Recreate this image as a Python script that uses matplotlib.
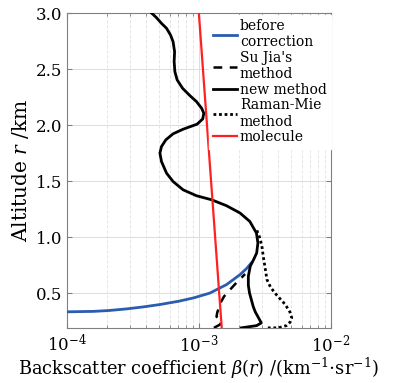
import matplotlib
matplotlib.use("Agg")
import matplotlib.pyplot as plt
from matplotlib.ticker import LogLocator, NullFormatter

plt.rcParams['font.family'] = ['DejaVu Serif']
plt.rcParams['mathtext.fontset'] = 'dejavuserif'

# altitude (km) and backscatter (km^-1 sr^-1)
new_alt = [3.0, 2.958, 2.908, 2.864, 2.804, 2.744, 2.655, 2.566, 2.477, 2.403,
           2.329, 2.263, 2.209, 2.15, 2.106, 2.055, 2.008, 1.963, 1.922, 1.868,
           1.808, 1.75, 1.675, 1.571, 1.496, 1.422, 1.369, 1.333, 1.28, 1.215,
           1.14, 1.036, 0.947, 0.858, 0.80, 0.74, 0.65, 0.57, 0.50, 0.44, 0.38,
           0.33, 0.29, 0.234, 0.21, 0.19]
new_val = [4.38e-4, 4.78e-4, 5.21e-4, 5.69e-4, 6.1e-4, 6.38e-4, 6.55e-4, 6.5e-4,
           6.58e-4, 6.85e-4, 7.52e-4, 8.55e-4, 9.6e-4, 1.05e-3, 1.09e-3, 1.07e-3,
           9.7e-4, 7.6e-4, 6.38e-4, 5.62e-4, 5.21e-4, 5.07e-4, 5.21e-4, 5.69e-4,
           6.38e-4, 7.6e-4, 9.6e-4, 1.25e-3, 1.62e-3, 2.05e-3, 2.43e-3, 2.73e-3,
           2.8e-3, 2.74e-3, 2.6e-3, 2.45e-3, 2.37e-3, 2.37e-3, 2.42e-3, 2.5e-3,
           2.58e-3, 2.68e-3, 2.8e-3, 2.97e-3, 2.74e-3, 2.1e-3]

before_alt = [0.30, 0.325, 0.333, 0.337, 0.345, 0.359, 0.377, 0.398, 0.427,
              0.457, 0.50, 0.576, 0.665, 0.72, 0.77]
before_val = [1e-5, 4e-5, 1.0e-4, 1.6e-4, 2.1e-4, 2.83e-4, 3.8e-4, 5.06e-4,
              7.0e-4, 9.1e-4, 1.21e-3, 1.62e-3, 2.05e-3, 2.3e-3, 2.5e-3]

sujia_alt = [0.19, 0.22, 0.26, 0.29, 0.33, 0.37, 0.42, 0.47, 0.53, 0.60, 0.67]
sujia_val = [1.3e-3, 1.45e-3, 1.48e-3, 1.36e-3, 1.38e-3, 1.42e-3, 1.47e-3,
             1.55e-3, 1.72e-3, 1.95e-3, 2.24e-3]

raman_alt = [1.06, 1.0, 0.92, 0.82, 0.72, 0.62, 0.55, 0.48, 0.40, 0.33, 0.28,
             0.24, 0.21, 0.19, 0.19]
raman_val = [2.75e-3, 2.88e-3, 3.0e-3, 3.08e-3, 3.18e-3, 3.28e-3, 3.5e-3,
             3.9e-3, 4.5e-3, 4.9e-3, 5.05e-3, 4.9e-3, 4.6e-3, 4.0e-3, 3.3e-3]

mol_alt = [3.0, 0.19]
mol_val = [1.0e-3, 1.49e-3]

fig = plt.figure(figsize=(3.93, 3.83), dpi=100)
ax = fig.add_axes([0.170, 0.144, 0.672, 0.822])

ax.plot(before_val, before_alt, color='#2a5db0', lw=2.0, label='before\ncorrection', zorder=3)
ax.plot(sujia_val, sujia_alt, color='black', lw=1.8, ls=(0, (3.5, 3)), label="Su Jia's\nmethod", zorder=3)
ax.plot(new_val, new_alt, color='black', lw=2.0, label='new method', zorder=4,
        solid_joinstyle='round')
ax.plot(raman_val, raman_alt, color='black', lw=2.0, ls=(0, (1, 1)), label='Raman-Mie\nmethod', zorder=3)
ax.plot(mol_val, mol_alt, color='#ff2020', lw=1.6, label='molecule', zorder=5)

ax.set_xscale('log')
ax.set_xlim(1e-4, 1e-2)
ax.set_ylim(0.19, 3.0)
ax.set_yticks([0.5, 1.0, 1.5, 2.0, 2.5, 3.0])
ax.xaxis.set_minor_locator(LogLocator(base=10, subs=range(2, 10)))
ax.xaxis.set_minor_formatter(NullFormatter())

ax.grid(True, which='major', color='#dcdcdc', lw=0.7)
ax.grid(True, which='minor', axis='x', color='#e2e2e2', lw=0.6, ls=(0, (4, 2)))
ax.set_axisbelow(True)
for s in ax.spines.values():
    s.set_color('#808080')
    s.set_linewidth(0.8)
ax.tick_params(which='both', direction='in', top=True, right=True, color='#808080',
               labelsize=12)
ax.tick_params(which='major', length=3.5)
ax.tick_params(which='minor', length=2)
ax.tick_params(axis='x', pad=4)

ax.set_ylabel('Altitude $r$ /km', fontsize=14.5, labelpad=3)
ax.set_xlabel(r'Backscatter coefficient $\beta(r)$ /(km$^{-1}$$\cdot$sr$^{-1}$)',
              fontsize=12.8, labelpad=0)

leg = ax.legend(loc='upper right', bbox_to_anchor=(1.0, 0.994), fontsize=10,
                frameon=True, fancybox=False, edgecolor='white', framealpha=1,
                borderaxespad=0, handlelength=1.75, handletextpad=0.2,
                labelspacing=0.12, borderpad=0.3)

fig.savefig('out.png', dpi=100)
